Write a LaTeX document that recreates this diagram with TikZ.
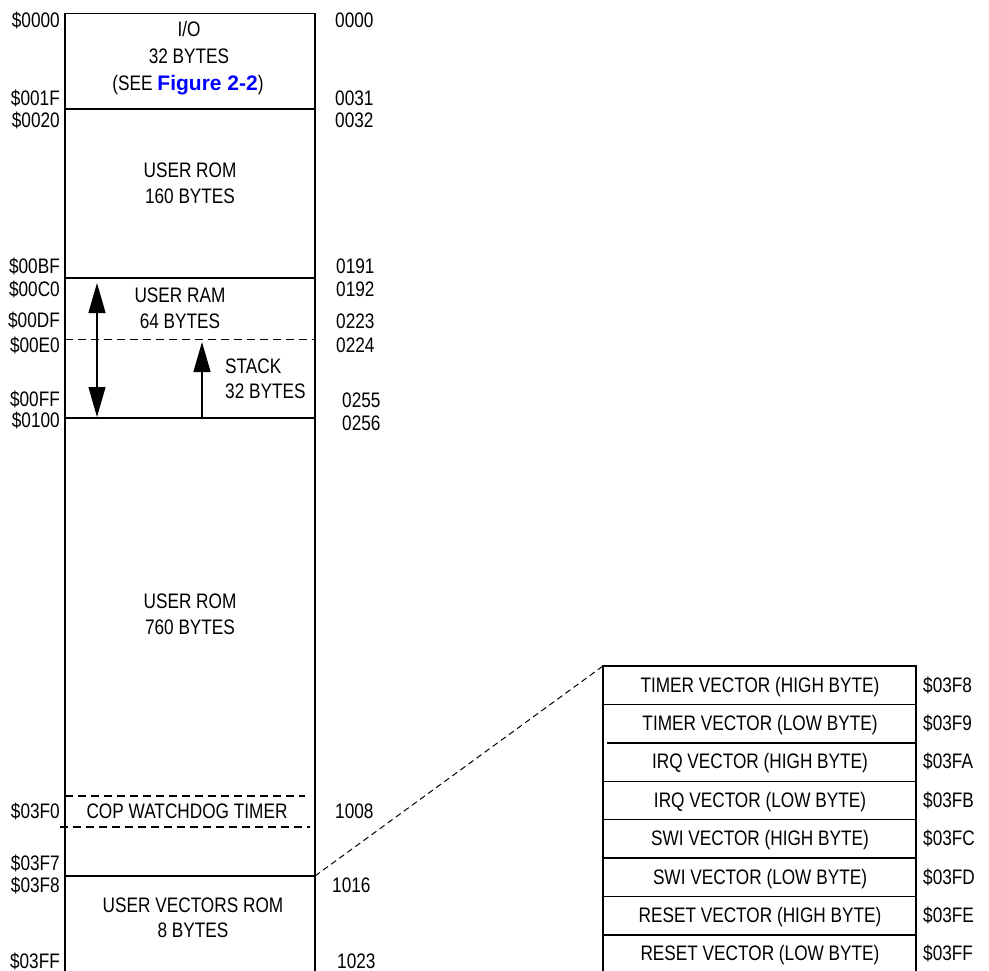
\documentclass[tikz,border=0pt]{standalone}
\usepackage{fontspec}
\setmainfont{Liberation Sans}[FakeStretch=0.82]
\newfontfamily\figfont{Liberation Sans}
\usetikzlibrary{arrows.meta}
\definecolor{figblue}{RGB}{0,0,255}
\begin{document}
\begin{tikzpicture}[x=1pt,y=-1pt,
  lbl/.style={font=\fontsize{21}{25}\selectfont, inner sep=0pt},
  addrL/.style={lbl, anchor=base east},
  addrR/.style={lbl, anchor=base west},
  mid/.style={lbl, anchor=base},
  wall/.style={line width=1.4pt},
  sepline/.style={line width=1.3pt, dash pattern=on 8pt off 5pt},
  conn/.style={line width=1pt, dash pattern=on 6pt off 4pt},
  bighead/.tip={Triangle[length=30pt,width=17pt]}]
\useasboundingbox (0,0) rectangle (989,971);

% ---------- main memory map ----------
\draw[wall] (65,971) -- (65,13.5) -- (315,13.5) -- (315,971);
\draw[wall] (65,109) -- (315,109);
\draw[wall] (65,278) -- (315,278);
\draw[wall] (65,418) -- (315,418);
\draw[wall] (65,876) -- (315,876);
\draw[sepline] (65,339.5) -- (315,339.5);
\draw[sepline] (65,796) -- (305,796);
\draw[sepline] (60,827) -- (310,827);

% arrows
\coordinate (ramtop) at (97,283);
\coordinate (rambot) at (97,417);
\coordinate (stkbot) at (202,418);
\coordinate (stktop) at (202,342);
\draw[line width=1.3pt, bighead-bighead] (ramtop) -- (rambot);
\draw[line width=1.3pt, -bighead] (stkbot) -- (stktop);

% region texts
\node[mid] (io1) at (189,37) {I/O};
\node[mid] (io2) at (189,64) {32 BYTES};
\node[mid] (io3) at (188,91) {(SEE {\figfont\bfseries\color{figblue}Figure 2-2})};
\node[mid] (rom1a) at (190,178) {USER ROM};
\node[mid] (rom1b) at (190,204) {160 BYTES};
\node[mid] (ram1) at (180,302) {USER RAM};
\node[mid] (ram2) at (180,328) {64 BYTES};
\node[addrR] (stk1) at (225,373) {STACK};
\node[addrR] (stk2) at (225,398) {32 BYTES};
\node[mid] (rom2a) at (190,608) {USER ROM};
\node[mid] (rom2b) at (190,634) {760 BYTES};
\node[mid] (cop) at (187,818) {COP WATCHDOG TIMER};
\node[mid] (vec1) at (193,912) {USER VECTORS ROM};
\node[mid] (vec2) at (193,937) {8 BYTES};

% left hex addresses
\node[addrL] (h0000) at (60,28) {\$0000};
\node[addrL] (h001F) at (60,106) {\$001F};
\node[addrL] (h0020) at (60,128) {\$0020};
\node[addrL] (h00BF) at (60,273) {\$00BF};
\node[addrL] (h00C0) at (60,296) {\$00C0};
\node[addrL] (h00DF) at (60,327) {\$00DF};
\node[addrL] (h00E0) at (60,352) {\$00E0};
\node[addrL] (h00FF) at (60,406) {\$00FF};
\node[addrL] (h0100) at (60,427) {\$0100};
\node[addrL] (h03F0) at (60,818) {\$03F0};
\node[addrL] (h03F7) at (60,870) {\$03F7};
\node[addrL] (h03F8) at (60,892) {\$03F8};
\node[addrL] (h03FF) at (60,968) {\$03FF};

% right decimal addresses
\node[addrR] (d0000) at (335,28) {0000};
\node[addrR] (d0031) at (335,106) {0031};
\node[addrR] (d0032) at (335,128) {0032};
\node[addrR] (d0191) at (336,273) {0191};
\node[addrR] (d0192) at (336,296) {0192};
\node[addrR] (d0223) at (336,328) {0223};
\node[addrR] (d0224) at (336,352) {0224};
\node[addrR] (d0255) at (342,407) {0255};
\node[addrR] (d0256) at (342,430) {0256};
\node[addrR] (d1008) at (335,818) {1008};
\node[addrR] (d1016) at (332,892) {1016};
\node[addrR] (d1023) at (337,968) {1023};

% ---------- vector table ----------
\draw[wall] (603,971) -- (603,666) -- (916,666) -- (916,971);
\draw[wall] (603,704.4) -- (916,704.4);
\draw[wall] (607,742.8) -- (916,742.8);
\draw[wall] (603,781.2) -- (916,781.2);
\draw[wall] (603,819.6) -- (916,819.6);
\draw[wall] (603,858) -- (916,858);
\draw[wall] (603,896.4) -- (916,896.4);
\draw[wall] (603,934.8) -- (916,934.8);

\node[mid] (t1) at (760,692) {TIMER VECTOR (HIGH BYTE)};
\node[mid] (t2) at (760,730.4) {TIMER VECTOR (LOW BYTE)};
\node[mid] (t3) at (760,768.8) {IRQ VECTOR (HIGH BYTE)};
\node[mid] (t4) at (760,807.2) {IRQ VECTOR (LOW BYTE)};
\node[mid] (t5) at (760,845.6) {SWI VECTOR (HIGH BYTE)};
\node[mid] (t6) at (760,884) {SWI VECTOR (LOW BYTE)};
\node[mid] (t7) at (760,922.4) {RESET VECTOR (HIGH BYTE)};
\node[mid] (t8) at (760,960.8) {RESET VECTOR (LOW BYTE)};

\node[addrR] (a1) at (923,692) {\$03F8};
\node[addrR] (a2) at (923,730.4) {\$03F9};
\node[addrR] (a3) at (923,768.8) {\$03FA};
\node[addrR] (a4) at (923,807.2) {\$03FB};
\node[addrR] (a5) at (923,845.6) {\$03FC};
\node[addrR] (a6) at (923,884) {\$03FD};
\node[addrR] (a7) at (923,922.4) {\$03FE};
\node[addrR] (a8) at (923,960.8) {\$03FF};

% zoom connector
\coordinate (vecsrc) at (315,876);
\coordinate (tabtop) at (603,666);
\draw[conn] (vecsrc) -- (tabtop);
\end{tikzpicture}
\end{document}
